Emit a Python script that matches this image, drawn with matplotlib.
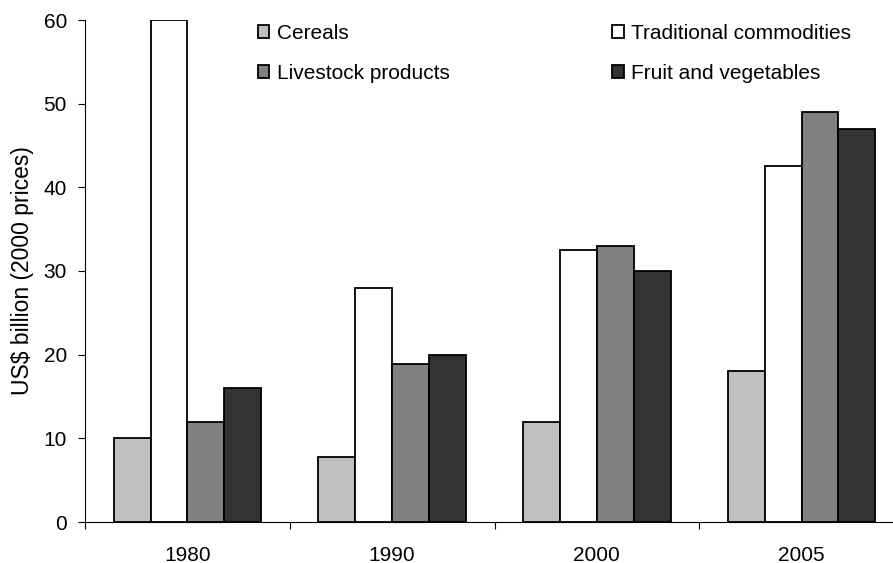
import numpy as np
import matplotlib
matplotlib.use("Agg")
import matplotlib.pyplot as plt

plt.rcParams['font.family'] = ['Liberation Sans', 'DejaVu Sans']

# data
years = ["1980", "1990", "2000", "2005"]
cereals = [10, 7.8, 12, 18]
traditional = [60, 28, 32.5, 42.5]
livestock = [12, 18.9, 33, 49]
fruit_veg = [16, 20, 30, 47]

series = [
    ("Cereals", cereals, "#c0c0c0"),
    ("Traditional commodities", traditional, "#ffffff"),
    ("Livestock products", livestock, "#808080"),
    ("Fruit and vegetables", fruit_veg, "#333333"),
]

fig = plt.figure(figsize=(8.93, 5.63), dpi=100)
ax = fig.add_axes([85 / 893, 1 - 522 / 563, 819 / 893, 502 / 563])

x = np.arange(len(years))
w = 0.18
for i, (name, vals, col) in enumerate(series):
    ax.bar(x + (i - 1.5) * w, vals, w, color=col, edgecolor="black",
           linewidth=1.3, label=name)

ax.set_xlim(-0.5, 3.5)
ax.set_ylim(0, 60)
ax.set_yticks(range(0, 61, 10))
ax.set_xticks(x)
ax.set_xticklabels(years)
ax.set_xticks(np.arange(-0.5, 3.6, 1), minor=True)
ax.tick_params(axis="x", which="major", length=0, pad=17, labelsize=15)
ax.tick_params(axis="x", which="minor", length=5, width=0.8, direction="out")
ax.tick_params(axis="y", length=5, width=0.8, labelsize=15, pad=8)
ax.spines["top"].set_visible(False)
ax.spines["right"].set_visible(False)
ax.spines["left"].set_linewidth(0.8)
ax.spines["bottom"].set_linewidth(0.8)
ax.set_ylabel("US$ billion (2000 prices)", fontsize=16.5, labelpad=7)

# legend: fill column-wise, so order handles for two rows
h, l = ax.get_legend_handles_labels()
order = [0, 2, 1, 3]
ax.legend([h[k] for k in order], [l[k] for k in order], ncol=2,
          frameon=False, fontsize=15, handlelength=0.55, handleheight=0.55,
          handletextpad=0.35, columnspacing=7.8, labelspacing=1.0,
          loc="upper left", bbox_to_anchor=(258 / 893, 1 - 24 / 563),
          bbox_transform=fig.transFigure, borderaxespad=0, borderpad=0)

fig.savefig("out.png", dpi=100)
